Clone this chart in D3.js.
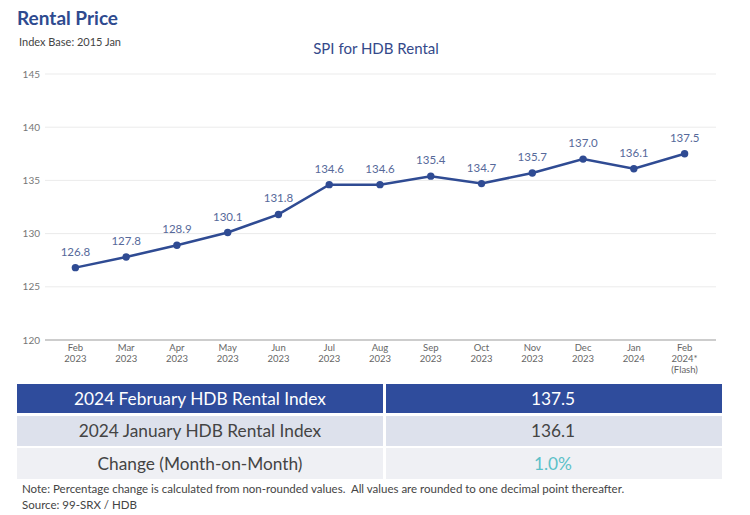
<!DOCTYPE html>
<html>
<head>
<meta charset="utf-8">
<script src="https://cdn.jsdelivr.net/npm/d3@7"></script>
<style>
  body { margin: 0; background: #fff; font-family: Lato, "Open Sans", sans-serif; }
</style>
</head>
<body>
<div id="chart"></div>
<script>
const months = ["Feb", "Mar", "Apr", "May", "Jun", "Jul", "Aug", "Sep", "Oct", "Nov", "Dec", "Jan", "Feb"];
const years = ["2023", "2023", "2023", "2023", "2023", "2023", "2023", "2023", "2023", "2023", "2023", "2024", "2024*"];
const extras = ["", "", "", "", "", "", "", "", "", "", "", "", "(Flash)"];
const values = [126.8, 127.8, 128.9, 130.1, 131.8, 134.6, 134.6, 135.4, 134.7, 135.7, 137.0, 136.1, 137.5];
const yTicks = [120, 125, 130, 135, 140, 145];

const tableLabels = ["2024 February HDB Rental Index", "2024 January HDB Rental Index", "Change (Month-on-Month)"];
const tableValues = ["137.5", "136.1", "1.0%"];

const width = 750, height = 515;
const blue = "#2f4b93";

const svg = d3.select("#chart").append("svg")
  .attr("width", width)
  .attr("height", height);

// titles
svg.append("text").attr("x", 17).attr("y", 25)
  .attr("font-size", 19).attr("font-weight", 700).attr("fill", "#2e4a8f")
  .text("Rental Price");
svg.append("text").attr("x", 19).attr("y", 46)
  .attr("font-size", 11).attr("fill", "#444")
  .text("Index Base: 2015 Jan");
svg.append("text").attr("x", 376).attr("y", 54)
  .attr("text-anchor", "middle").attr("font-size", 15).attr("fill", "#34498a")
  .text("SPI for HDB Rental");

const xScale = d3.scalePoint()
  .domain(d3.range(values.length))
  .range([50, 710])
  .padding(0.5);

const yScale = d3.scaleLinear()
  .domain([120, 145])
  .range([340, 74]);

// gridlines
svg.append("g").selectAll("line")
  .data(yTicks.slice(1))
  .enter().append("line")
  .attr("x1", 45).attr("x2", 716)
  .attr("y1", d => yScale(d)).attr("y2", d => yScale(d))
  .attr("stroke", "#ebebeb").attr("stroke-width", 1);

svg.append("line")
  .attr("x1", 45).attr("x2", 716)
  .attr("y1", yScale(120)).attr("y2", yScale(120))
  .attr("stroke", "#bdbdbd").attr("stroke-width", 1.5);

// y labels
svg.append("g").selectAll("text")
  .data(yTicks)
  .enter().append("text")
  .attr("x", 40).attr("y", d => yScale(d) + 3.5)
  .attr("text-anchor", "end").attr("font-size", 10).attr("fill", "#777")
  .text(d => d);

// x labels
const xl = svg.append("g").selectAll("text")
  .data(values.map((v, i) => i))
  .enter().append("text")
  .attr("text-anchor", "middle").attr("font-size", 9.5).attr("fill", "#666")
  .attr("x", i => xScale(i)).attr("y", 351);
xl.append("tspan").attr("x", i => xScale(i)).text(i => months[i]);
xl.append("tspan").attr("x", i => xScale(i)).attr("dy", 11).text(i => years[i]);
xl.filter(i => extras[i]).append("tspan").attr("x", i => xScale(i)).attr("dy", 11).text(i => extras[i]);

// line
const line = d3.line()
  .x((d, i) => xScale(i))
  .y(d => yScale(d));

svg.append("path")
  .datum(values)
  .attr("d", line)
  .attr("fill", "none")
  .attr("stroke", blue)
  .attr("stroke-width", 2.5);

svg.append("g").selectAll("circle")
  .data(values)
  .enter().append("circle")
  .attr("cx", (d, i) => xScale(i))
  .attr("cy", d => yScale(d))
  .attr("r", 3.7)
  .attr("fill", blue);

svg.append("g").selectAll("text")
  .data(values)
  .enter().append("text")
  .attr("x", (d, i) => xScale(i))
  .attr("y", d => yScale(d) - 12)
  .attr("text-anchor", "middle").attr("font-size", 11.5).attr("fill", "#56699a")
  .text(d => d.toFixed(1));

// table
const rows = [
  { y: 384, h: 29, fill: "#2f4c9c", text: "#fff", valColor: "#fff" },
  { y: 416, h: 30, fill: "#dde1ec", text: "#444", valColor: "#444" },
  { y: 448, h: 31, fill: "#eff0f4", text: "#444", valColor: "#5bc0c8" }
];

rows.forEach((r, i) => {
  svg.append("rect").attr("x", 17).attr("y", r.y).attr("width", 366).attr("height", r.h).attr("fill", r.fill);
  svg.append("rect").attr("x", 386).attr("y", r.y).attr("width", 336).attr("height", r.h).attr("fill", r.fill);
  svg.append("text").attr("x", 200).attr("y", r.y + r.h / 2 + 6)
    .attr("text-anchor", "middle").attr("font-size", 17.3).attr("fill", r.text)
    .text(tableLabels[i]);
  svg.append("text").attr("x", 553).attr("y", r.y + r.h / 2 + 6)
    .attr("text-anchor", "middle").attr("font-size", 17.3).attr("fill", r.valColor)
    .text(tableValues[i]);
});

svg.append("text").attr("x", 22).attr("y", 493)
  .attr("font-size", 11.5).attr("fill", "#444")
  .attr("xml:space", "preserve")
  .text("Note: Percentage change is calculated from non-rounded values.  All values are rounded to one decimal point thereafter.");
svg.append("text").attr("x", 22).attr("y", 509)
  .attr("font-size", 11.5).attr("fill", "#444")
  .text("Source: 99-SRX / HDB");
</script>
</body>
</html>
